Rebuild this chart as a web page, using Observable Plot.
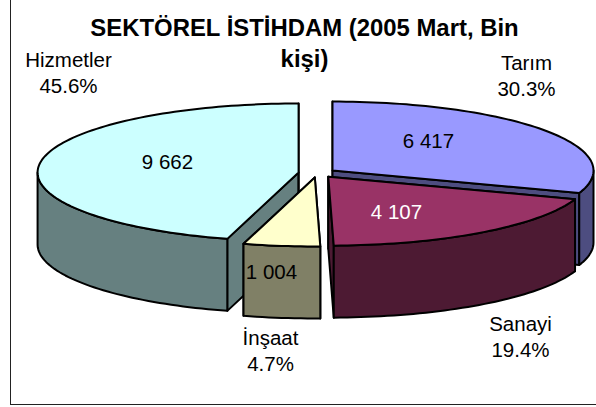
<!DOCTYPE html>
<html>
<head>
<meta charset="utf-8">
<script src="https://cdn.jsdelivr.net/npm/d3@7"></script>
<script src="https://cdn.jsdelivr.net/npm/@observablehq/plot@0.6"></script>
<style>
html,body{margin:0;padding:0;background:#fff;}
svg{display:block;}
</style>
</head>
<body>
<div id="chart"></div>
<script>
// Data
const titleLines = ["SEKTÖREL İSTİHDAM (2005 Mart, Bin", "kişi)"];
const categories = ["Tarım", "Sanayi", "İnşaat", "Hizmetler"];
const values = [6417, 4107, 1004, 9662];
const topColors = ["#9999FF", "#993366", "#FFFFCC", "#CCFFFF"];
const sideColors = ["#4D4D80", "#4D1A33", "#808066", "#668080"];
const valueColors = ["#000", "#fff", "#000", "#000"];

// Layout of the tilted, exploded pie
const W = 596, H = 407;
const pie = {cx: 316.7, cy: 172.6, rx: 261, ry: 69, depth: 72, ex: 18.8, ey: 4.4};
const valueLabelX = [428, 396, 271, 167];
const valueLabelY = [141, 212, 272, 162];
const nameLabelX = [526, 520, 270, 68];
const nameLabelY = [74, 335, 349.5, 71];

const total = d3.sum(values);
const rad = d => d * Math.PI / 180;
let acc = 0;
const slices = categories.map((name, i) => {
  const a0 = acc / total * 360;
  acc += values[i];
  const a1 = acc / total * 360;
  const mid = rad((a0 + a1) / 2);
  return {
    name, i, a0, a1,
    cx: pie.cx + pie.ex * Math.sin(mid),
    cy: pie.cy - pie.ey * Math.cos(mid)
  };
});

const rim = (s, a, dz = 0) => ({
  x: s.cx + pie.rx * Math.sin(rad(a)),
  y: s.cy - pie.ry * Math.cos(rad(a)) + dz
});
const arc = (s, a0, a1, dz = 0) => {
  const n = Math.max(2, Math.ceil(Math.abs(a1 - a0) / 1.5));
  return d3.range(n + 1).map(k => rim(s, a0 + (a1 - a0) * k / n, dz));
};

// Faces in painter's order: back slice first, each with cut faces, wall, top.
const faces = [];
const addFace = (pts, fill) => {
  const id = faces.length;
  const closed = [...pts, pts[0]];
  faces.push(closed.map(p => ({...p, id, fill})));
};
for (const s of [slices[3], slices[0], slices[1], slices[2]]) {
  const side = sideColors[s.i], top = topColors[s.i];
  const c = {x: s.cx, y: s.cy}, cb = {x: s.cx, y: s.cy + pie.depth};
  for (const a of [s.a0, s.a1]) {
    addFace([c, rim(s, a), rim(s, a, pie.depth), cb], side);
  }
  const w0 = Math.max(s.a0, 90), w1 = Math.min(s.a1, 270);
  if (w1 > w0) addFace([...arc(s, w0, w1), ...arc(s, w1, w0, pie.depth)], side);
  addFace([c, ...arc(s, s.a0, s.a1)], top);
}
const facePoints = faces.flat();

const fmtValue = v => d3.format(",")(v).replace(/,/g, " ");
const fmtPct = d3.format(".1%");

const valueLabels = slices.map(s => ({
  x: valueLabelX[s.i], y: valueLabelY[s.i],
  text: fmtValue(values[s.i]), fill: valueColors[s.i]
}));
const nameLabels = slices.map(s => ({
  x: nameLabelX[s.i], y: nameLabelY[s.i],
  text: s.name + "\n" + fmtPct(values[s.i] / total)
}));

const chart = Plot.plot({
  width: W, height: H,
  margin: 0,
  style: {background: "#fff", fontFamily: "'Liberation Sans', Arial, sans-serif"},
  x: {domain: [0, W], range: [0, W], axis: null},
  y: {domain: [0, H], range: [0, H], axis: null},
  marks: [
    Plot.ruleX([10], {y1: 0, y2: 404, stroke: "#222", strokeWidth: 1}),
    Plot.ruleY([404], {x1: 10, x2: W, stroke: "#222", strokeWidth: 1}),
    Plot.line(facePoints, {
      x: "x", y: "y", z: "id", fill: "fill", stroke: "#000",
      strokeWidth: 2, strokeLinejoin: "round", curve: "linear"
    }),
    Plot.text(titleLines, {
      x: () => 304, y: (d, i) => 27.5 + i * 31, text: d => d,
      fontSize: 23.9, fontWeight: "bold", fill: "#000"
    }),
    Plot.text(valueLabels, {
      x: "x", y: "y", text: "text", fill: "fill", fontSize: 20.5
    }),
    Plot.text(nameLabels, {
      x: "x", y: "y", text: "text", fill: "#000", fontSize: 20.5,
      lineHeight: 1.27, lineAnchor: "middle", textAnchor: "middle"
    })
  ]
});
document.getElementById("chart").append(chart);
</script>
</body>
</html>
